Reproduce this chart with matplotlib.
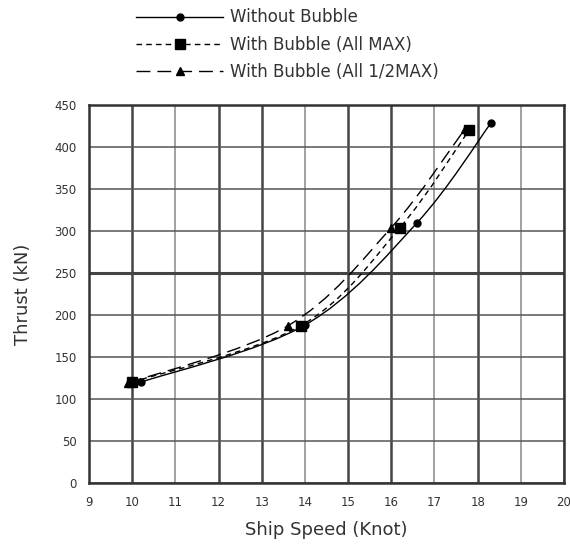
import matplotlib
matplotlib.use('Agg')
import matplotlib.pyplot as plt
from matplotlib.path import Path
from matplotlib.patches import PathPatch
from matplotlib.lines import Line2D

plt.rcParams['font.family'] = ['DejaVu Sans']

# data
speed_without = [10.2, 14.0, 16.6, 18.3]
thrust_without = [120, 188, 310, 428]
speed_max = [10.0, 13.9, 16.2, 17.8]
thrust_max = [120, 187, 304, 420]
speed_half = [9.9, 13.6, 16.0, 17.7]
thrust_half = [119, 187, 304, 421]

labels = ['Without Bubble', 'With Bubble (All MAX)', 'With Bubble (All 1/2MAX)']
x_ticks = list(range(9, 21))
y_ticks = list(range(0, 451, 50))


def smooth_path(xs, ys):
    # catmull-rom through the points, drawn as cubic bezier segments
    pts = list(zip(xs, ys))
    verts = [pts[0]]
    codes = [Path.MOVETO]
    n = len(pts)
    for i in range(n - 1):
        p0 = pts[i - 1] if i > 0 else pts[i]
        p1 = pts[i]
        p2 = pts[i + 1]
        p3 = pts[i + 2] if i + 2 < n else pts[i + 1]
        c1 = (p1[0] + (p2[0] - p0[0]) / 6, p1[1] + (p2[1] - p0[1]) / 6)
        c2 = (p2[0] - (p3[0] - p1[0]) / 6, p2[1] - (p3[1] - p1[1]) / 6)
        verts += [c1, c2, p2]
        codes += [Path.CURVE4] * 3
    return Path(verts, codes)


fig = plt.figure(figsize=(5.7, 5.44), dpi=100)
ax = fig.add_axes([89 / 570, 61 / 544, 475 / 570, 378 / 544])

series = [
    (speed_without, thrust_without, '-', 'o', 5),
    (speed_max, thrust_max, (0, (4, 3)), 's', 7),
    (speed_half, thrust_half, (0, (10, 5)), '^', 6),
]
handles = []
for xs, ys, ls, mk, ms in series:
    ax.add_patch(PathPatch(smooth_path(xs, ys), fill=False, edgecolor='black',
                           lw=1.0, linestyle=ls, zorder=3))
    ax.plot(xs, ys, linestyle='none', marker=mk, markersize=ms, color='black', zorder=4)
    handles.append(Line2D([], [], color='black', lw=1.0, linestyle=ls,
                          marker=mk, markersize=ms))

ax.set_xlim(9, 20)
ax.set_ylim(0, 450)
ax.set_xticks(x_ticks)
ax.set_yticks(y_ticks)
ax.tick_params(labelsize=8.5, length=0, pad=9, labelcolor='#333333')
ax.grid(True, color='#555555', lw=1.1)
ax.set_axisbelow(True)
# some grid lines look heavier in the reference
for v, gl in zip(x_ticks, ax.get_xgridlines()):
    if v in (10, 12, 13, 15, 16, 18):
        gl.set_linewidth(1.8)
        gl.set_color('#444444')
    else:
        gl.set_color('#888888')
for v, gl in zip(y_ticks, ax.get_ygridlines()):
    if v == 250:
        gl.set_linewidth(2.2)
        gl.set_color('#444444')
for s in ax.spines.values():
    s.set_color('#333333')
    s.set_linewidth(1.8)

ax.set_xlabel('Ship Speed (Knot)', fontsize=13, color='#333333', labelpad=9)
ax.set_ylabel('Thrust (kN)', fontsize=13, color='#333333', labelpad=16)

fig.legend(handles, labels,
           loc='upper left', bbox_to_anchor=(0.213, 1.012), frameon=False,
           fontsize=12, handlelength=5.2, labelspacing=0.55, handletextpad=0.4,
           labelcolor='#333333')

fig.savefig('out.png', dpi=100)
